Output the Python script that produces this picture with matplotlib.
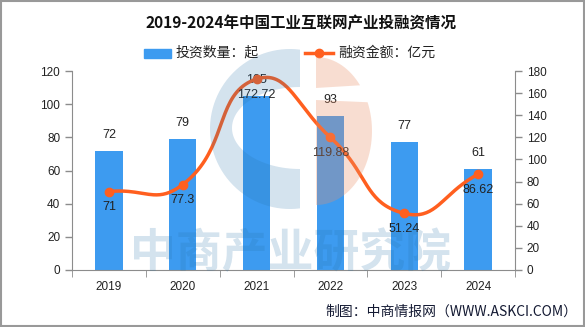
import numpy as np
import matplotlib.pyplot as plt
from matplotlib.patches import Rectangle, Polygon

plt.rcParams['font.family'] = ['Noto Sans CJK SC', 'DejaVu Sans']

years = ['2019', '2020', '2021', '2022', '2023', '2024']
deals = [72, 79, 105, 93, 77, 61]
amount = [71, 77.3, 172.72, 119.88, 51.24, 86.62]
amount_labels = ['71', '77.3', '172.72', '119.88', '51.24', '86.62']

bar_color = '#3d9bf0'
line_color = '#ff5f1f'
axis_color = '#8c8c8c'
num_font = 'Liberation Sans'

W, H = 585, 327
L, R, T, B = 72, 515, 71, 270


# echarts-style smooth bezier through the points (done in pixel space)
def smooth_line(x, y, ymax, smooth=0.5, n=40):
    sx = (R - L) / 6.0
    sy = (B - T) / ymax
    P = np.column_stack([np.asarray(x, float) * sx, np.asarray(y, float) * sy])
    m = len(P)
    cps_next, cps_prev = [], []
    for i in range(m):
        prev = P[max(i - 1, 0)]
        nxt = P[min(i + 1, m - 1)]
        v = nxt - prev
        d0 = np.hypot(*(P[i] - prev))
        d1 = np.hypot(*(nxt - P[i]))
        r = d1 / (d0 + d1)
        cps_next.append(P[i] + v * smooth * r)
        cps_prev.append(P[i] - v * smooth * (1 - r))
    out = []
    t = np.linspace(0, 1, n)[:, None]
    for i in range(m - 1):
        p0, p1, p2, p3 = P[i], cps_next[i], cps_prev[i + 1], P[i + 1]
        seg = ((1 - t) ** 3) * p0 + 3 * ((1 - t) ** 2) * t * p1 + 3 * (1 - t) * t ** 2 * p2 + t ** 3 * p3
        out.append(seg)
    out = np.vstack(out)
    return out[:, 0] / sx, out[:, 1] / sy


fig = plt.figure(figsize=(W / 100, H / 100), dpi=100)
fig.patches.append(Rectangle((0.002, 0.003), 0.996, 0.994, transform=fig.transFigure,
                             fill=False, edgecolor='#999999', linewidth=1.5))

ax = fig.add_axes([L / W, 1 - B / H, (R - L) / W, (B - T) / H])
ax2 = ax.twinx()

x = np.arange(len(years))
ax.bar(x, deals, width=0.37, color=bar_color, zorder=2)
for xi, v in zip(x, deals):
    ax.text(xi, v + 6, str(v), ha='center', va='bottom', fontsize=9, color='#222222',
            family=num_font)

lx, ly = smooth_line(x, amount, 180)
ax2.plot(lx, ly, color=line_color, linewidth=2.5, zorder=3)
ax2.plot(x, amount, 'o', color=line_color, markersize=6, zorder=4)
for xi, v, s in zip(x, amount, amount_labels):
    ax2.text(xi, v - 9, s, ha='center', va='top', fontsize=9, color='#222222',
             family=num_font, zorder=5)

ax.set_xlim(-0.5, 5.5)
ax.set_ylim(0, 120)
ax2.set_ylim(0, 180)
ax.set_yticks(range(0, 121, 20))
ax2.set_yticks(range(0, 181, 20))
ax.set_xticks(x)
ax.set_xticklabels(years)

for a in (ax, ax2):
    a.patch.set_visible(False)
    a.spines['top'].set_visible(False)
    a.tick_params(colors='#222222', labelsize=8.5, length=5, width=1, color=axis_color)
    for lab in a.get_yticklabels() + a.get_xticklabels():
        lab.set_family(num_font)
ax.spines['right'].set_visible(False)
ax2.spines['left'].set_visible(False)
ax.spines['left'].set_color(axis_color)
ax.spines['bottom'].set_color(axis_color)
ax2.spines['right'].set_color(axis_color)
ax2.spines['bottom'].set_visible(False)
ax.set_xticks(np.arange(-0.5, 6, 1), minor=True)
ax.tick_params(axis='x', which='major', length=0, pad=8)
ax.tick_params(axis='x', which='minor', length=5, color=axis_color)

# watermark (logo + text) laid over the plot, semi transparent
wm = fig.add_axes([0, 0, 1, 1], zorder=10)
wm.set_xlim(0, W)
wm.set_ylim(H, 0)
wm.axis('off')
a0 = np.arcsin(10 / 80.0)
th = np.linspace(np.pi / 2 - a0, 3 * np.pi / 2 + a0, 60)
outer = np.column_stack([290 + 80 * np.cos(th), 129 - 80 * np.sin(th)])
th_in = np.linspace(np.pi / 2, 3 * np.pi / 2, 60)[::-1]
inner = np.column_stack([300 + 68 * np.cos(th_in), 128 - 41 * np.sin(th_in)])
wm.add_patch(Polygon(np.vstack([outer, inner]), closed=True, color='#2873aa', alpha=0.2, lw=0))
th2 = np.linspace(-np.pi / 2, np.pi / 2, 60)
half = np.column_stack([316 + 56 * np.cos(th2), 131 - 74 * np.sin(th2)])
dot = half[half[:, 1] <= 88]
body = half[half[:, 1] >= 100]
wm.add_patch(Polygon(np.vstack([[316, 88], dot]), closed=True, color='#eb9169', alpha=0.3, lw=0))
wm.add_patch(Polygon(np.vstack([body, [316, 100]]), closed=True, color='#eb9169', alpha=0.3, lw=0))
wm.text(291, 254, '中商产业研究院', fontsize=33, fontweight='bold', color='#2873aa',
        ha='center', va='center', alpha=0.2)

fig.text(301 / W, 1 - 23 / H, '2019-2024年中国工业互联网产业投融资情况', ha='center', va='center',
         fontsize=11.2, fontweight='bold', color='#111111')

# legend
fig.patches.append(Rectangle((144 / W, 1 - 58 / H), 27 / W, 9 / H,
                             transform=fig.transFigure, color=bar_color))
fig.text(176 / W, 1 - 53 / H, '投资数量：起', va='center', fontsize=10, color='#222222')
fig.lines.append(plt.Line2D([305 / W, 319 / W, 333 / W], [1 - 53 / H] * 3,
                            transform=fig.transFigure, color=line_color, linewidth=2.5,
                            marker='o', markevery=[1], markersize=6))
fig.text(338 / W, 1 - 53 / H, '融资金额：亿元', va='center', fontsize=10, color='#222222')

fig.text(577 / W, 1 - 312 / H, '制图：中商情报网（WWW.ASKCI.COM）', ha='right', va='center',
         fontsize=10, color='#141a33')

fig.savefig('out.png', dpi=100)
